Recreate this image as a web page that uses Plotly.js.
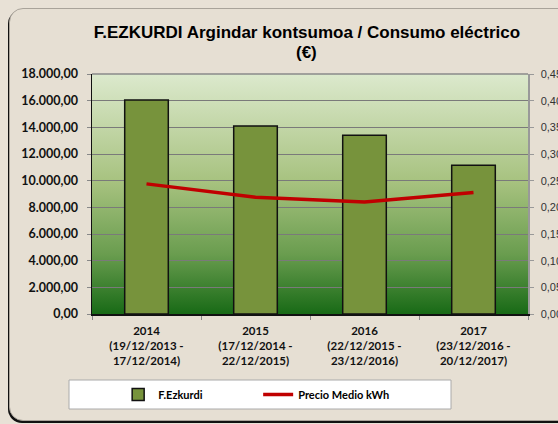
<!DOCTYPE html>
<html><head><meta charset="utf-8">
<script src="https://cdn.plot.ly/plotly-3.0.1.min.js"></script>
<style>
html,body{margin:0;padding:0;width:558px;height:424px;overflow:hidden;background:#e8e1d6;}
#frame{position:absolute;left:9px;top:8px;width:600px;height:411px;border:1px solid #a9a39a;border-radius:14px;background:#e6dfd3;box-shadow:-1px 2px 0 #111;}
#chart{position:absolute;left:0;top:0;width:558px;height:424px;}
</style></head><body>
<div id="frame"></div>
<div id="chart"></div>
<script>
const categories = [
  "2014<br>(19/12/2013 -<br>17/12/2014)",
  "2015<br>(17/12/2014 -<br>22/12/2015)",
  "2016<br>(22/12/2015 -<br>23/12/2016)",
  "2017<br>(23/12/2016 -<br>20/12/2017)"
];
const consumo = [16050, 14100, 13400, 11150];
const precio = [0.244, 0.219, 0.210, 0.228];
const seriesNames = ["F.Ezkurdi", "Precio Medio kWh"];
const titleLine1 = "F.EZKURDI Argindar kontsumoa / Consumo eléctrico";
const titleLine2 = "(€)";

const grad = '<svg xmlns="http://www.w3.org/2000/svg" width="100" height="100" preserveAspectRatio="none">' +
 '<defs><linearGradient id="g" x1="0" y1="0" x2="0" y2="1">' +
 '<stop offset="0" stop-color="#dce9cd"/><stop offset="0.45" stop-color="#a7c27f"/>' +
 '<stop offset="0.75" stop-color="#6a9d4f"/><stop offset="1" stop-color="#186a16"/></linearGradient></defs>' +
 '<rect width="100" height="100" fill="url(#g)"/></svg>';

const data = [
  {type:'bar', x:categories, y:consumo, name:seriesNames[0],
   marker:{color:'#77933c', line:{color:'#111', width:1.5}}, width:0.4},
  {type:'scatter', mode:'lines', x:categories, y:precio, yaxis:'y2', name:seriesNames[1],
   line:{color:'#c00000', width:3.5}}
];

const titleFont = {family:'Arial', size:17, color:'#000', weight:'bold'};

const layout = {
  width:558, height:424,
  paper_bgcolor:'rgba(0,0,0,0)', plot_bgcolor:'rgba(0,0,0,0)',
  margin:{l:92, r:30, t:74, b:110},
  separators:',.',
  title:{text:titleLine1, font:titleFont,
    x:0.493, xref:'paper', xanchor:'center', y:1-32/424, yref:'container', yanchor:'middle'},
  annotations:[{text:titleLine2, font:titleFont, xref:'paper', yref:'paper', x:0.493, y:(314-52)/240,
    xanchor:'center', yanchor:'middle', showarrow:false}],
  showlegend:true,
  legend:{orientation:'h', x:0.06, xanchor:'left', y:-0.275, yanchor:'top', bgcolor:'rgba(0,0,0,0)',
    font:{family:'Lato', size:11, color:'#000', weight:'bold'}, entrywidth:95},
  xaxis:{type:'category', showline:true, linecolor:'#111', linewidth:1.5, ticks:'outside', tickson:'boundaries',
    ticklen:4, tickcolor:'#888', showgrid:false, ticklabelstandoff:6,
    tickfont:{family:'Lato', size:11.5, color:'#111', weight:'bold'}},
  yaxis:{range:[0,18000], dtick:2000, tickformat:',.2f', showline:true, linecolor:'#111', linewidth:1.5,
    ticks:'outside', ticklen:4, tickcolor:'#888', gridcolor:'#7a7a7a', gridwidth:1, zeroline:false,
    ticklabelstandoff:6,
    tickfont:{family:'Lato', size:12.5, color:'#111', weight:'bold'}},
  yaxis2:{overlaying:'y', side:'right', range:[0,0.45], dtick:0.05, tickformat:'.2f', showgrid:false,
    showline:true, linecolor:'#999', linewidth:1.5, ticks:'outside', ticklen:4, tickcolor:'#999', zeroline:false,
    ticklabelstandoff:5,
    tickfont:{family:'Arial', size:11, color:'#333'}},
  images:[{source:'data:image/svg+xml;charset=utf-8,' + encodeURIComponent(grad), xref:'paper', yref:'paper',
    x:0, y:1, sizex:1, sizey:1, sizing:'stretch', layer:'below', xanchor:'left', yanchor:'top'}],
  shapes:[
    {type:'line', xref:'paper', yref:'paper', x0:0, x1:1, y0:1, y1:1, line:{color:'#8a8a8a', width:1.5}},
    {type:'rect', xref:'paper', yref:'paper', x0:(69-92)/436, x1:(451-92)/436, y0:(314-409)/240, y1:(314-380)/240,
     fillcolor:'#fff', line:{color:'#aaa', width:1}, layer:'below'}
  ]
};
Plotly.newPlot('chart', data, layout, {displayModeBar:false, staticPlot:true});
</script>
</body></html>
